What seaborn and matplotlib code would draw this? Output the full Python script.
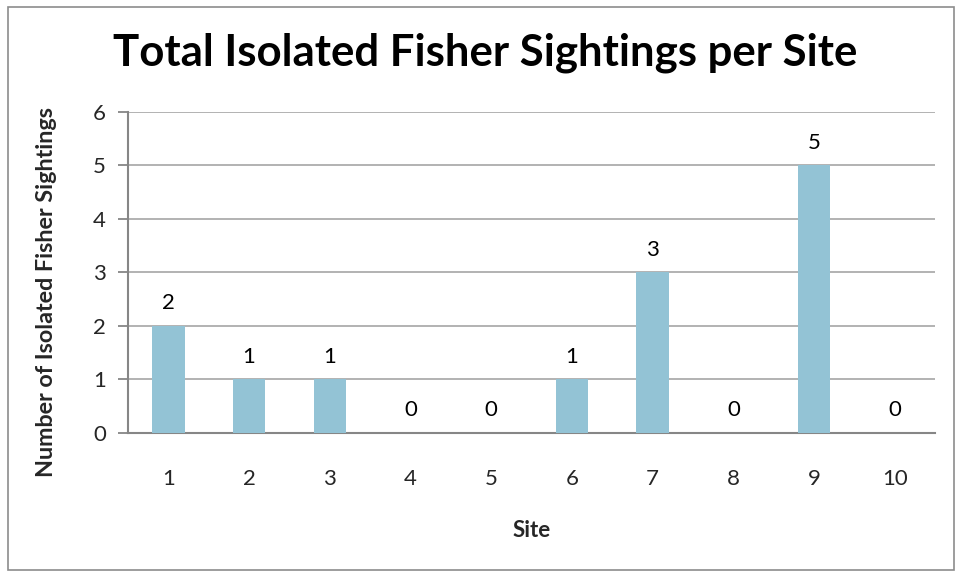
import matplotlib
matplotlib.use("Agg")
import matplotlib.pyplot as plt
import seaborn as sns
import pandas as pd
from matplotlib.patches import Rectangle

sites = ["1", "2", "3", "4", "5", "6", "7", "8", "9", "10"]
sightings = [2, 1, 1, 0, 0, 1, 3, 0, 5, 0]
y_ticks = [0, 1, 2, 3, 4, 5, 6]

sns.set_theme(style="white")
plt.rcParams["font.family"] = ["Lato", "DejaVu Sans"]

df = pd.DataFrame({"Site": sites, "Sightings": sightings})

fig = plt.figure(figsize=(9.64, 5.77), dpi=100)
ax = fig.add_axes([0.1328, 0.2496, 0.8372, 0.5564])

grid_c = "#a6a6a6"
axis_c = "#868686"

sns.barplot(data=df, x="Site", y="Sightings", color="#93c3d5", width=0.4,
            saturation=1, ax=ax, zorder=3, edgecolor="none")

ax.set_ylim(0, 6)
ax.set_xlim(-0.5, len(sites) - 0.5)
ax.set_yticks(y_ticks)
ax.yaxis.grid(True, color=grid_c, linewidth=1.2, zorder=0)
ax.set_axisbelow(True)

for side in ["top", "right"]:
    ax.spines[side].set_visible(False)
for side in ["left", "bottom"]:
    ax.spines[side].set_color(axis_c)
    ax.spines[side].set_linewidth(1.5)

# category separators as minor ticks below the x axis
ax.set_xticks([i - 0.5 for i in range(len(sites) + 1)], minor=True)
ax.tick_params(axis="x", which="minor", length=7, width=1.3, color=axis_c, direction="out")
ax.tick_params(axis="x", which="major", length=0, pad=26, labelsize=16)
ax.tick_params(axis="y", which="major", length=7, width=1.3, color=axis_c,
               direction="out", pad=9, labelsize=16, left=True)

for i, v in enumerate(sightings):
    ax.text(i, v + 0.24, str(v), ha="center", va="bottom", fontsize=16, color="black")

ax.set_xlabel("Site", fontsize=16, fontweight="bold", labelpad=22)
ax.set_ylabel("Number of Isolated Fisher Sightings", fontsize=16.8, fontweight="bold")
ax.yaxis.set_label_coords(-0.088, 0.44)

fig.text(0.503, 0.908, "Total Isolated Fisher Sightings per Site", ha="center", va="center",
         fontsize=31.5, fontweight="bold", color="black")

fig.patches.append(Rectangle((0.008, 0.012), 0.982, 0.976, transform=fig.transFigure,
                             fill=False, edgecolor="#8c8c8c", linewidth=1.2))

fig.savefig("out.png", dpi=100)
